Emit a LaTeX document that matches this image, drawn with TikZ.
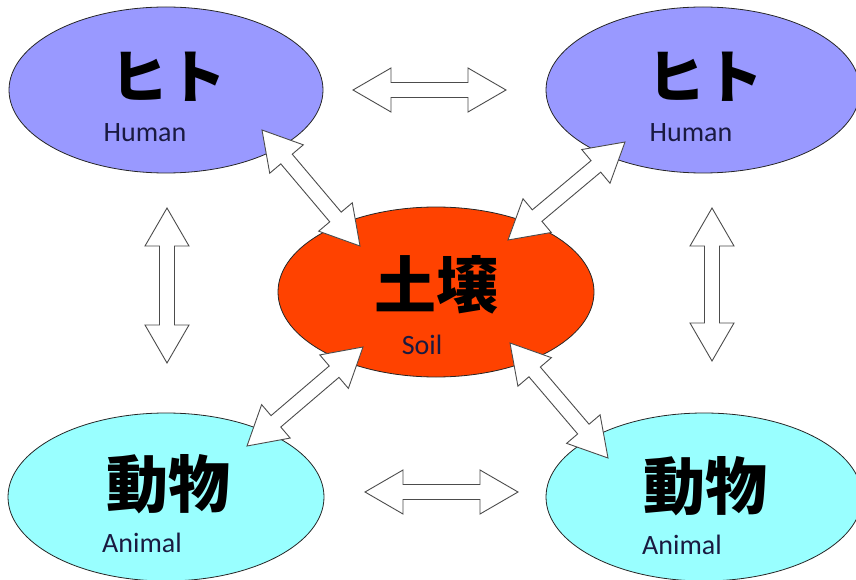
\documentclass[tikz,border=0pt]{standalone}
\usepackage{fontspec}
\setmainfont{Carlito}
\newfontfamily\cjk{Noto Sans CJK JP}
\usetikzlibrary{shapes.geometric,calc}
\definecolor{humanblue}{HTML}{9999FF}
\definecolor{soilred}{HTML}{FF4200}
\definecolor{animalcyan}{HTML}{99FFFF}
\definecolor{labeldark}{HTML}{1A1A40}
\tikzset{
  blob/.style={ellipse, draw=black!85, line width=0.8pt, inner sep=0pt},
  humanblob/.style={blob, fill=humanblue, minimum width=314pt, minimum height=166pt},
  soilblob/.style={blob, fill=soilred, minimum width=316pt, minimum height=170pt},
  animalblob/.style={blob, fill=animalcyan, minimum width=316pt, minimum height=168pt},
  bigjp/.style={font=\cjk\bfseries\fontsize{58}{58}\selectfont, inner sep=0pt},
  bigjpbold/.style={font=\cjk\bfseries\fontsize{62}{62}\selectfont, inner sep=0pt},
  smalllabel/.style={font=\fontsize{28}{28}\selectfont, text=labeldark, inner sep=0pt},
  blockarrowline/.style={draw=black!70, fill=white, line width=0.9pt, line join=miter},
}
\newcommand\blockarrow[2]{%
  \draw[blockarrowline] (#1)
    -- ($(#1)!38pt!(#2)!22pt!90:(#2)$)
    -- ($(#1)!38pt!(#2)!7.5pt!90:(#2)$)
    -- ($(#2)!38pt!(#1)!7.5pt!90:(#2)$)
    -- ($(#2)!38pt!(#1)!22pt!90:(#2)$)
    -- (#2)
    -- ($(#2)!38pt!(#1)!22pt!270:(#2)$)
    -- ($(#2)!38pt!(#1)!7.5pt!270:(#2)$)
    -- ($(#1)!38pt!(#2)!7.5pt!270:(#2)$)
    -- ($(#1)!38pt!(#2)!22pt!270:(#2)$)
    -- cycle;}
\begin{document}
\begin{tikzpicture}[x=1pt,y=-1pt]
\useasboundingbox (0,0) rectangle (856,580);
\clip (0,0) rectangle (856,580);
% ellipses
\node[humanblob] (h1) at (166,90) {};
\node[humanblob] (h2) at (703,90) {};
\node[soilblob] (soil) at (436,292) {};
\node[animalblob] (a1) at (166,497) {};
\node[animalblob] (a2) at (704,497) {};
% labels
\node[bigjp] (h1t) at (168,77) {ヒト};
\node[smalllabel] (h1l) at (145,133) {Human};
\node[bigjp] (h2t) at (705,77) {ヒト};
\node[smalllabel] (h2l) at (691,133) {Human};
\node[bigjpbold] (soilt) at (436,285) {土壌};
\node[smalllabel] (soill) at (422,345) {Soil};
\node[bigjpbold] (a1t) at (168,484) {動物};
\node[smalllabel] (a1l) at (142,543) {Animal};
\node[bigjpbold] (a2t) at (705,486) {動物};
\node[smalllabel] (a2l) at (682,545) {Animal};
% arrow end points
\coordinate (th1) at (353,90);
\coordinate (th2) at (506,90);
\coordinate (bh1) at (365,492);
\coordinate (bh2) at (518,492);
\coordinate (lv1) at (167,208);
\coordinate (lv2) at (167,363);
\coordinate (rv1) at (712,208);
\coordinate (rv2) at (712,361);
\coordinate (tl1) at (262,130);
\coordinate (tl2) at (360,246);
\coordinate (tr1) at (625,142);
\coordinate (tr2) at (508,240);
\coordinate (bl1) at (363,347);
\coordinate (bl2) at (247,446);
\coordinate (br1) at (510,343);
\coordinate (br2) at (608,458);
% block arrows
\blockarrow{th1}{th2}
\blockarrow{bh1}{bh2}
\blockarrow{lv1}{lv2}
\blockarrow{rv1}{rv2}
\blockarrow{tl1}{tl2}
\blockarrow{tr1}{tr2}
\blockarrow{bl1}{bl2}
\blockarrow{br1}{br2}
\end{tikzpicture}
\end{document}
